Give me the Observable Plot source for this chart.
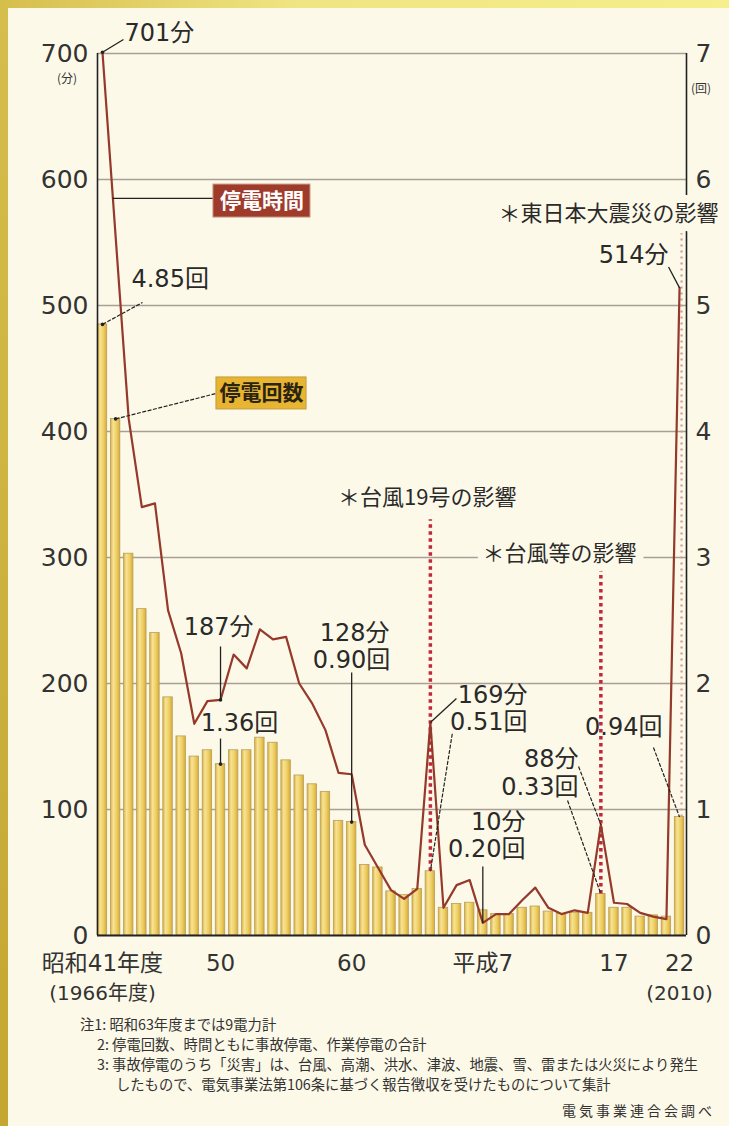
<!DOCTYPE html>
<html><head><meta charset="utf-8">
<script src="https://cdn.jsdelivr.net/npm/d3@7"></script>
<script src="https://cdn.jsdelivr.net/npm/@observablehq/plot@0.6"></script>
<style>
html,body{margin:0;padding:0}
body{width:729px;height:1126px;overflow:hidden;background:#fdf9e8;position:relative;font-family:"Noto Sans CJK JP",sans-serif;color:#333}
#lstrip{position:absolute;left:0;top:0;width:8px;height:1126px;background:linear-gradient(#d6be4c,#c4a632)}
#tstrip{position:absolute;left:0;top:0;width:729px;height:8px;background:linear-gradient(to right,#d6be4c,#efe482 40%,#f6ef8c)}
#chart{position:absolute;left:0;top:0}
.unit{position:absolute;font-size:12px;color:#333;transform:translate(-50%,-50%)}
#notes{position:absolute;left:0;top:0;width:729px;font-size:14.3px;color:#333}
#notes div{position:absolute;white-space:nowrap;transform:translateY(-50%)}
</style></head>
<body>
<div id="lstrip"></div><div id="tstrip"></div>
<div id="chart"></div>
<div class="unit" style="left:67px;top:77px">(分)</div>
<div class="unit" style="left:701px;top:87px">(回)</div>
<div id="notes"></div>
<script>
// ---- data ----
const years = [1966,1967,1968,1969,1970,1971,1972,1973,1974,1975,1976,1977,1978,1979,1980,1981,1982,1983,1984,1985,1986,1987,1988,1989,1990,1991,1992,1993,1994,1995,1996,1997,1998,1999,2000,2001,2002,2003,2004,2005,2006,2007,2008,2009,2010];
const minutes = [701,555,410,340,343,258,224,168,186,187,223,212,243,235,237,200,184,163,129,128,72,54,36,29,37,169,22,40,44,10,17,17,28,38,22,17,20,18,88,26,25,18,15,13,514];
const counts = [4.85,4.10,3.03,2.59,2.40,1.89,1.58,1.42,1.47,1.36,1.47,1.47,1.57,1.53,1.39,1.27,1.20,1.14,0.91,0.90,0.56,0.54,0.35,0.32,0.37,0.51,0.22,0.25,0.26,0.20,0.17,0.17,0.22,0.23,0.19,0.17,0.18,0.18,0.33,0.22,0.22,0.15,0.16,0.15,0.94];
const yTicks = [0,100,200,300,400,500,600,700];
const gridTicks = [100,200,300,400,500,600,700];
const xTickYears = [1966,1975,1985,1995,2005,2010];
const xTickLabels = ["昭和41年度","50","60","平成7","17","22"];
const xSubYears = [1966,2010];
const xSubLabels = ["(1966年度)","(2010)"];
const noteLines = ["注1: 昭和63年度までは9電力計","2: 停電回数、時間ともに事故停電、作業停電の合計","3: 事故停電のうち「災害」は、台風、高潮、洪水、津波、地震、雪、雷または火災により発生","したもので、電気事業法第106条に基づく報告徴収を受けたものについて集計"];
const source = "電気事業連合会調べ";

// annotations (data units: year, minutes; counts shown x100)
const numLabels = [
  {text:"701分", x:1967.68, y:715.9, a:"start"},
  {text:"4.85回", x:1968.21, y:520.6, a:"start"},
  {text:"187分", x:1974.85, y:244.4, a:"middle"},
  {text:"1.36回", x:1976.45, y:168.3, a:"middle"},
  {text:"128分", x:1985.22, y:239.7, a:"middle"},
  {text:"0.90回", x:1984.99, y:218.3, a:"middle"},
  {text:"169分", x:1998.41, y:190.6, a:"end"},
  {text:"0.51回", x:1998.41, y:169.0, a:"end"},
  {text:"10分", x:1998.25, y:89.7, a:"end"},
  {text:"0.20回", x:1998.25, y:68.3, a:"end"},
  {text:"88分", x:2002.30, y:139.7, a:"end"},
  {text:"0.33回", x:2002.30, y:117.5, a:"end"},
  {text:"0.94回", x:2008.70, y:165.1, a:"end"},
  {text:"514分", x:2009.16, y:539.7, a:"end"}
];
const eventLabels = [
  {text:"＊台風19号の影響", x:1983.96, y:347.6, a:"start"},
  {text:"＊台風等の影響", x:1994.98, y:303.2, a:"start"},
  {text:"＊東日本大震災の影響", x:2012.97, y:573.0, a:"end"}
];
const eventRules = [
  {x:1991, y1:51, y2:330},
  {x:2004, y1:33, y2:291}
];
const quakeRule = [{x:2010, y1:94, y2:557}];
const solidLeaders = [
  {x1:1966, y1:701, x2:1967.60, y2:711.1},
  {x1:1966.76, y1:585, x2:1974.46, y2:585},
  {x1:1975, y1:187, x2:1975, y2:229.4},
  {x1:1975, y1:156.3, x2:1975, y2:136},
  {x1:1985, y1:208.7, x2:1985, y2:90},
  {x1:1991, y1:169, x2:1992.99, y2:188.1},
  {x1:1995, y1:54.8, x2:1995, y2:10},
  {x1:2009.16, y1:530.6, x2:2010, y2:514}
];
const dashLeaders = [
  {x1:1966, y1:485, x2:1969.05, y2:502.4},
  {x1:1967, y1:410, x2:1974.69, y2:430.2},
  {x1:1992.67, y1:160.1, x2:1991, y2:51},
  {x1:2002.30, y1:134.1, x2:2004, y2:88},
  {x1:2001.46, y1:107.1, x2:2004, y2:33},
  {x1:2008.01, y1:149.2, x2:2010, y2:94}
];
const leaderDots = [
  {x:1966, y:701},{x:1966, y:485},{x:1967, y:410},{x:1975, y:187},{x:1975, y:136},{x:1985, y:90}
];
const boxes = [
  {text:"停電時間", x1:1974.46, x2:1981.86, y1:569.8, y2:596.0, tx:1978.16, ty:582.9, fill:"#9f3b2b", stroke:"#c99a8a", color:"#ffffff"},
  {text:"停電回数", x1:1974.69, x2:1981.56, y1:417.5, y2:442.9, tx:1978.12, ty:430.2, fill:"#e7b531", stroke:"#c49a3e", color:"#2b2412"}
];

const data = years.map((year,i)=>({year, minutes:minutes[i], count:counts[i]}));
const xDomain = [1965.62, 2010.53];
const NUMFONT = "DejaVu Sans, Noto Sans CJK JP, sans-serif";
const JPFONT = "Noto Sans CJK JP, sans-serif";
const BG = "#fdf9e8";
const TXT = "#2a2a2a";

function gradientDefs(){
  const ns="http://www.w3.org/2000/svg";
  const defs=document.createElementNS(ns,"defs");
  const g=document.createElementNS(ns,"linearGradient");
  g.setAttribute("id","barGrad");
  g.setAttribute("x1","0");g.setAttribute("x2","1");g.setAttribute("y1","0");g.setAttribute("y2","0");
  [["0%","#d9b13f"],["30%","#f7e396"],["65%","#efcf63"],["100%","#d6ab38"]].forEach(([o,c])=>{
    const s=document.createElementNS(ns,"stop");s.setAttribute("offset",o);s.setAttribute("stop-color",c);g.appendChild(s);
  });
  defs.appendChild(g);
  return defs;
}
const byAnchor = (arr, a) => arr.filter(d => d.a === a);
function numText(a){
  return Plot.text(byAnchor(numLabels, a), {x:"x", y:"y", text:"text", textAnchor:a, fontSize:24, fill:TXT, fontFamily:NUMFONT});
}
function eventText(a){
  return Plot.text(byAnchor(eventLabels, a), {x:"x", y:"y", text:"text", textAnchor:a, fontSize:22, fill:TXT, fontFamily:JPFONT, stroke:BG, strokeWidth:16});
}

const chart = Plot.plot({
  width:729, height:1010,
  marginTop:53, marginBottom:75, marginLeft:97, marginRight:43,
  x:{domain:xDomain, axis:null},
  y:{domain:[0,700], axis:null},
  style:{background:"transparent", overflow:"visible", fontFamily:NUMFONT, color:"#333"},
  marks:[
    gradientDefs,
    Plot.ruleY(gridTicks, {stroke:"#a6a194", strokeWidth:1.3}),
    Plot.rectY(data, {x1:d=>d.year-0.36, x2:d=>d.year+0.36, y:d=>d.count*100, fill:"url(#barGrad)", stroke:"#b79e5e", strokeWidth:0.8}),
    Plot.ruleY([0], {stroke:"#222", strokeWidth:2.2}),
    Plot.ruleX([xDomain[0]], {y1:0, y2:700, stroke:"#222", strokeWidth:1.6}),
    Plot.ruleX([xDomain[1]], {y1:0, y2:700, stroke:"#222", strokeWidth:1.6}),
    Plot.axisY({anchor:"left", ticks:yTicks, tickSize:0, tickPadding:9, fontSize:25, fontFamily:NUMFONT, fill:"#333", label:null}),
    Plot.axisY({anchor:"right", ticks:yTicks, tickSize:0, tickPadding:9, fontSize:25, fontFamily:NUMFONT, fill:"#333", label:null, tickFormat:d=>String(d/100)}),
    Plot.axisX({ticks:xTickYears, tickSize:0, tickPadding:19, fontSize:23, fontFamily:NUMFONT, fill:"#333", label:null, tickFormat:d=>xTickLabels[xTickYears.indexOf(d)]}),
    Plot.axisX({ticks:xSubYears, tickSize:0, tickPadding:50, fontSize:20, fontFamily:NUMFONT, fill:"#333", label:null, tickFormat:d=>xSubLabels[xSubYears.indexOf(d)]}),
    Plot.ruleX(eventRules, {x:"x", y1:"y1", y2:"y2", stroke:"#c2273a", strokeWidth:3.5, strokeDasharray:"3.5,3.5"}),
    Plot.ruleX(quakeRule, {x:"x", y1:"y1", y2:"y2", dx:2, stroke:"#d99595", strokeWidth:2.2, strokeDasharray:"2,4"}),
    Plot.line(data, {x:"year", y:"minutes", stroke:"#94392b", strokeWidth:2.2}),
    Plot.link(solidLeaders, {x1:"x1", y1:"y1", x2:"x2", y2:"y2", stroke:"#222", strokeWidth:1.3}),
    Plot.link(dashLeaders, {x1:"x1", y1:"y1", x2:"x2", y2:"y2", stroke:"#222", strokeWidth:1.2, strokeDasharray:"4,1.5"}),
    Plot.dot(leaderDots, {x:"x", y:"y", r:1.8, fill:"#222"}),
    Plot.rect(boxes, {x1:"x1", x2:"x2", y1:"y1", y2:"y2", fill:"fill", stroke:"stroke", strokeWidth:1}),
    Plot.text(boxes, {x:"tx", y:"ty", text:"text", fill:"color", fontSize:21, fontWeight:"bold", fontFamily:JPFONT}),
    numText("start"), numText("middle"), numText("end"),
    eventText("start"), eventText("end")
  ]
});
document.getElementById("chart").appendChild(chart);

// notes
const notes = document.getElementById("notes");
const notePos = [[80,1023],[97,1043],[97,1063],[116,1083]];
noteLines.forEach((t,i)=>{const d=document.createElement("div");d.textContent=t;d.style.left=notePos[i][0]+"px";d.style.top=notePos[i][1]+"px";notes.appendChild(d);});
const s=document.createElement("div");s.textContent=source;s.style.right="14px";s.style.top="1110px";s.style.fontSize="14px";s.style.letterSpacing="3px";notes.appendChild(s);
</script>
</body></html>
